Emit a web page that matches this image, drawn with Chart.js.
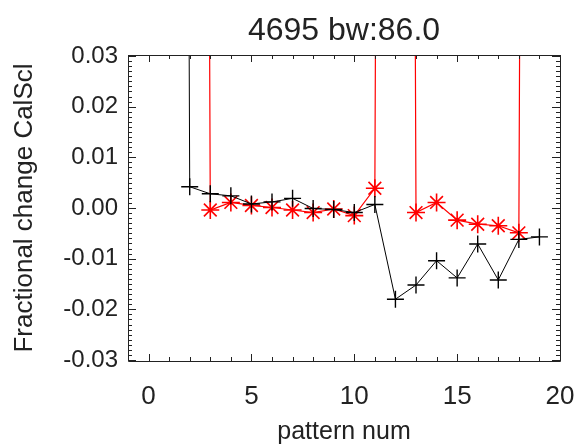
<!DOCTYPE html>
<html>
<head>
<meta charset="utf-8">
<script src="https://cdn.jsdelivr.net/npm/chart.js@4/dist/chart.umd.min.js"></script>
<style>
  html, body { margin: 0; padding: 0; background: #fff; }
  #wrap { width: 579px; height: 447px; }
</style>
</head>
<body>
<div id="wrap"><canvas id="mychart" width="579" height="447"></canvas></div>
<script>
// pattern numbers and fractional change per pattern (off-scale points are ~1.0)
const patterns = [1, 2, 3, 4, 5, 6, 7, 8, 9, 10, 11, 12, 13, 14, 15, 16, 17, 18, 19]
const blackValues = [1.0, 0.0042, 0.0028, 0.0024, 0.0008, 0.0012, 0.0019, -0.0001, -0.0003, -0.0009,
  0.0007, -0.0180, -0.0152, -0.0104, -0.0138, -0.0071, -0.0142, -0.0062, -0.0057]
const redValues = [1.0, 1.0, -0.0004, 0.0011, 0.0005, 0.0001, -0.0004, -0.0009, -0.0002, -0.0015,
  0.0039, 1.0, -0.0009, 0.0011, -0.0024, -0.0032, -0.0035, -0.0049, 1.0]

const xTicks = [0, 5, 10, 15, 20]
const yTicks = [-0.03, -0.02, -0.01, 0.00, 0.01, 0.02, 0.03]

const fontFamily = '"Liberation Sans", Arial, Helvetica, sans-serif'
const textColor = '#222'

const toPoints = (values) => patterns.map((p, i) => ({ x: p, y: values[i] }))

// IDL style frame: box with inward major/minor ticks on all sides
const frameTicks = {
  id: 'frameTicks',
  afterDatasetsDraw(chart) {
    const { ctx, chartArea: a, scales: { x, y } } = chart
    ctx.save()
    ctx.strokeStyle = '#222'
    ctx.lineWidth = 1
    ctx.beginPath()
    ctx.rect(Math.round(a.left) + 0.5, Math.round(a.top) + 0.5,
      Math.round(a.right - a.left), Math.round(a.bottom - a.top))
    ctx.stroke()

    ctx.beginPath()
    for (let v = -1; v <= 20; v++) {
      const px = Math.round(x.getPixelForValue(v)) + 0.5
      const len = v % 5 === 0 ? 7 : 4
      ctx.moveTo(px, a.bottom); ctx.lineTo(px, a.bottom - len)
      ctx.moveTo(px, a.top); ctx.lineTo(px, a.top + len)
    }
    for (let k = -30; k <= 30; k++) {
      const py = Math.round(y.getPixelForValue(k / 1000)) + 0.5
      const len = k % 10 === 0 ? 8 : 4
      ctx.moveTo(a.left, py); ctx.lineTo(a.left + len, py)
      ctx.moveTo(a.right, py); ctx.lineTo(a.right - len, py)
    }
    ctx.stroke()
    ctx.restore()
  }
}

const ctx = document.getElementById('mychart').getContext('2d')

new Chart(ctx, {
  type: 'line',
  data: {
    datasets: [
      {
        label: 'black',
        data: toPoints(blackValues),
        borderColor: '#000',
        borderWidth: 1,
        pointStyle: 'cross',
        pointRadius: 8.5,
        pointBorderColor: '#000',
        pointBorderWidth: 1.4,
        tension: 0,
      },
      {
        label: 'red',
        data: toPoints(redValues),
        borderColor: '#ff0000',
        borderWidth: 1.2,
        pointStyle: 'star',
        pointRadius: 9,
        pointBorderColor: '#ff0000',
        pointBorderWidth: 1.6,
        tension: 0,
      },
    ]
  },
  options: {
    responsive: false,
    animation: false,
    devicePixelRatio: 1,
    layout: { autoPadding: false, padding: { left: 0, right: 19, top: 0, bottom: 0 } },
    plugins: {
      legend: { display: false },
      tooltip: { enabled: false },
      title: {
        display: true,
        fullSize: false,
        text: '4695 bw:86.0',
        color: textColor,
        font: { family: fontFamily, size: 32, weight: 'normal', lineHeight: 1.2 },
        padding: { top: 12, bottom: 4.6 },
      },
    },
    scales: {
      x: {
        type: 'linear',
        min: -1,
        max: 20,
        afterBuildTicks(scale) { scale.ticks = xTicks.map((v) => ({ value: v })) },
        afterFit(scale) {
          scale.height = 86
          scale.paddingLeft = 0
          scale.paddingRight = 0
        },
        grid: { display: false, drawTicks: false },
        border: { display: false },
        ticks: {
          color: textColor,
          padding: 20,
          maxRotation: 0,
          font: { family: fontFamily, size: 26 },
        },
        title: {
          display: true,
          text: 'pattern num',
          color: textColor,
          font: { family: fontFamily, size: 25, lineHeight: 1.2 },
          padding: { top: 0, bottom: 0 },
        },
      },
      y: {
        type: 'linear',
        min: -0.0302,
        max: 0.0302,
        afterBuildTicks(scale) { scale.ticks = yTicks.map((v) => ({ value: v })) },
        afterFit(scale) {
          scale.width = 128
          scale.paddingTop = 0
          scale.paddingBottom = 0
        },
        grid: { display: false, drawTicks: false },
        border: { display: false },
        ticks: {
          color: textColor,
          padding: 10,
          font: { family: fontFamily, size: 24 },
          callback: (v) => v.toFixed(2),
        },
        title: {
          display: true,
          text: 'Fractional change CalScl',
          color: textColor,
          font: { family: fontFamily, size: 26, lineHeight: 1.2 },
          padding: { top: 9, bottom: 0 },
        },
      },
    },
  },
  plugins: [frameTicks],
})
</script>
</body>
</html>
